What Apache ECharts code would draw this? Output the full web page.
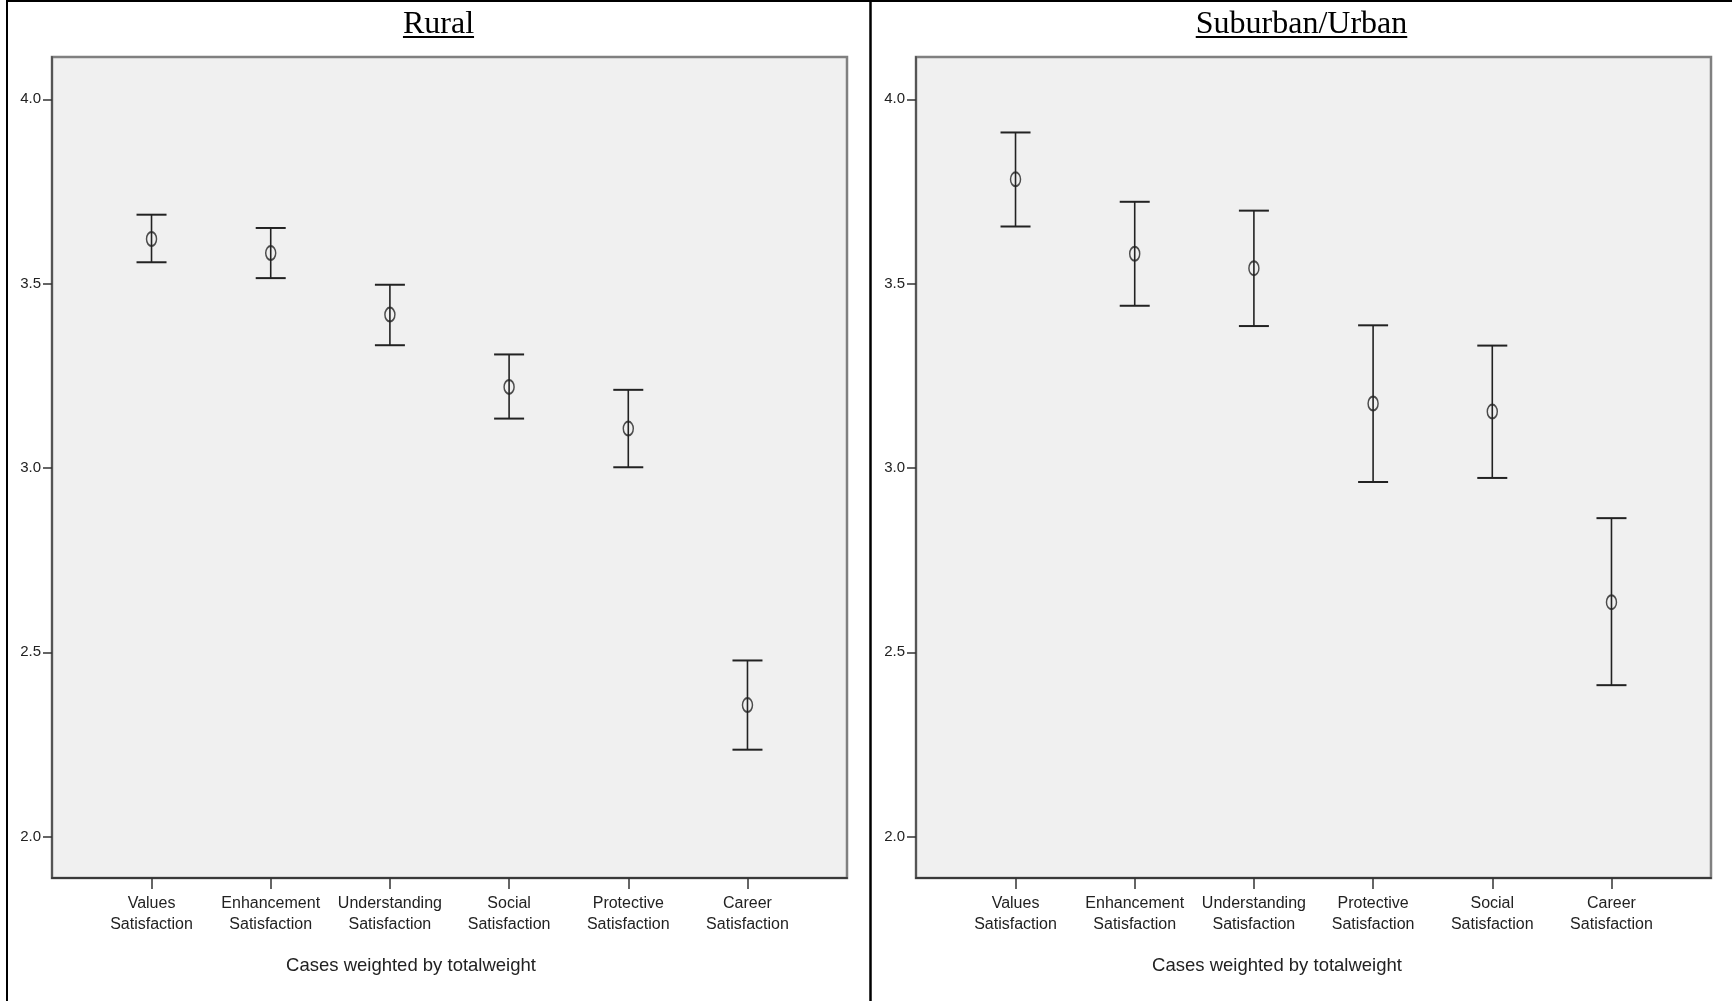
<!DOCTYPE html>
<html>
<head>
<meta charset="utf-8">
<script src="https://cdn.jsdelivr.net/npm/echarts@6/dist/echarts.min.js"></script>
<style>
html,body{margin:0;padding:0;background:#fff;}
#chart{width:1732px;height:1001px;}
</style>
</head>
<body>
<div id="chart"></div>
<script>
// ---- data ----
const panelTitles = ['Rural', 'Suburban/Urban'];
const ruralCategories = ['Values\nSatisfaction', 'Enhancement\nSatisfaction', 'Understanding\nSatisfaction', 'Social\nSatisfaction', 'Protective\nSatisfaction', 'Career\nSatisfaction'];
const ruralMean  = [3.621, 3.583, 3.416, 3.220, 3.107, 2.357];
const ruralUpper = [3.687, 3.651, 3.497, 3.308, 3.212, 2.478];
const ruralLower = [3.558, 3.515, 3.333, 3.134, 3.002, 2.236];

const urbanCategories = ['Values\nSatisfaction', 'Enhancement\nSatisfaction', 'Understanding\nSatisfaction', 'Protective\nSatisfaction', 'Social\nSatisfaction', 'Career\nSatisfaction'];
const urbanMean  = [3.783, 3.581, 3.542, 3.175, 3.153, 2.636];
const urbanUpper = [3.910, 3.722, 3.698, 3.387, 3.332, 2.864];
const urbanLower = [3.655, 3.440, 3.385, 2.962, 2.973, 2.411];

const yTickValues = [2.0, 2.5, 3.0, 3.5, 4.0];
const yTickLabels = ['2.0', '2.5', '3.0', '3.5', '4.0'];
const footnote = 'Cases weighted by totalweight';

// ---- styles ----
const SANS = "'Liberation Sans', Arial, sans-serif";
const SERIF = "'Liberation Serif', 'Times New Roman', serif";
const INK = '#222';

const chart = echarts.init(document.getElementById('chart'), null, {renderer: 'canvas'});

function measure(text, font) {
  const c = document.createElement('canvas').getContext('2d');
  c.font = font;
  return c.measureText(text).width;
}

const grids = [
  {left: 52, top: 57, width: 795, height: 821},
  {left: 916, top: 57, width: 795, height: 821}
];

function xAxisFor(gi, cats) {
  const idx = cats.map((_, i) => i);
  return {
    type: 'value', gridIndex: gi, min: -0.835, max: 5.835,
    splitLine: {show: false},
    axisLine: {show: true, onZero: false, lineStyle: {color: '#3a3a3a', width: 2}},
    axisTick: {show: true, length: 11, customValues: idx, lineStyle: {color: '#333', width: 1.5}},
    axisLabel: {
      show: true, customValues: idx, margin: 15,
      formatter: v => cats[Math.round(v)] || '',
      fontFamily: SANS, fontSize: 16, lineHeight: 21, color: INK
    }
  };
}
function yAxisFor(gi) {
  return {
    type: 'value', gridIndex: gi, min: 1.888, max: 4.1147,
    splitLine: {show: false},
    axisLine: {show: true, onZero: false, lineStyle: {color: '#555', width: 2}},
    axisTick: {show: true, length: 9, customValues: yTickValues, lineStyle: {color: '#333', width: 1.5}},
    axisLabel: {
      show: true, customValues: yTickValues, margin: 11,
      formatter: v => { const k = yTickValues.findIndex(t => Math.abs(t - v) < 1e-6); return k >= 0 ? yTickLabels[k] : ''; },
      fontFamily: SANS, fontSize: 15, color: INK
    }
  };
}

function errorSeries(gi, lower, upper) {
  return {
    type: 'custom', xAxisIndex: gi, yAxisIndex: gi, z: 3,
    data: lower.map((lo, i) => [i, lo, upper[i]]),
    encode: {x: 0, y: [1, 2]},
    renderItem: function (params, api) {
      const x = api.value(0);
      const pLo = api.coord([x, api.value(1)]);
      const pHi = api.coord([x, api.value(2)]);
      const hw = 15;
      const st = {stroke: INK, lineWidth: 1.6};
      const cap = {stroke: INK, lineWidth: 2};
      return {type: 'group', children: [
        {type: 'line', shape: {x1: pHi[0], y1: pHi[1], x2: pLo[0], y2: pLo[1]}, style: st},
        {type: 'line', shape: {x1: pHi[0] - hw, y1: pHi[1], x2: pHi[0] + hw, y2: pHi[1]}, style: cap},
        {type: 'line', shape: {x1: pLo[0] - hw, y1: pLo[1], x2: pLo[0] + hw, y2: pLo[1]}, style: cap}
      ]};
    }
  };
}
function meanSeries(gi, mean) {
  return {
    type: 'scatter', xAxisIndex: gi, yAxisIndex: gi, z: 4,
    symbol: 'circle', symbolSize: [10, 14],
    itemStyle: {color: 'rgba(0,0,0,0)', borderColor: INK, borderWidth: 1.7},
    data: mean.map((m, i) => [i, m])
  };
}

const titleFont = 32;
const titleFontCss = titleFont + 'px ' + SERIF;
const panelCenters = [438.5, 1301.5];
const footCenters = [411, 1277];
const titleBaseline = 33.5;

const graphics = [
  {type: 'line', shape: {x1: 7, y1: 1, x2: 1732, y2: 1}, style: {stroke: '#000', lineWidth: 2}, z: 10},
  {type: 'line', shape: {x1: 7, y1: 0, x2: 7, y2: 1001}, style: {stroke: '#000', lineWidth: 2}, z: 10},
  {type: 'line', shape: {x1: 870.5, y1: 0, x2: 870.5, y2: 1001}, style: {stroke: '#000', lineWidth: 2.5}, z: 10}
];
panelTitles.forEach((t, i) => {
  const w = measure(t, titleFontCss);
  graphics.push({type: 'text', x: panelCenters[i], y: titleBaseline + 0.216 * titleFont, style: {text: t, font: titleFontCss, fill: '#000', align: 'center', verticalAlign: 'bottom'}, z: 10});
  graphics.push({type: 'line', shape: {x1: panelCenters[i] - w / 2, y1: 37, x2: panelCenters[i] + w / 2, y2: 37}, style: {stroke: '#000', lineWidth: 2}, z: 10});
});
footCenters.forEach(cx => {
  graphics.push({type: 'text', x: cx, y: 966, style: {text: footnote, fontFamily: SANS, fontSize: 18.5, fill: INK, align: 'center', verticalAlign: 'middle'}, z: 10});
});

chart.setOption({
  backgroundColor: '#fff',
  animation: false,
  grid: grids.map(g => Object.assign({show: true, backgroundColor: '#f0f0f0', borderColor: '#808080', borderWidth: 2.5, containLabel: false}, g)),
  xAxis: [xAxisFor(0, ruralCategories), xAxisFor(1, urbanCategories)],
  yAxis: [yAxisFor(0), yAxisFor(1)],
  series: [
    errorSeries(0, ruralLower, ruralUpper), meanSeries(0, ruralMean),
    errorSeries(1, urbanLower, urbanUpper), meanSeries(1, urbanMean)
  ],
  graphic: graphics
});
</script>
</body>
</html>
